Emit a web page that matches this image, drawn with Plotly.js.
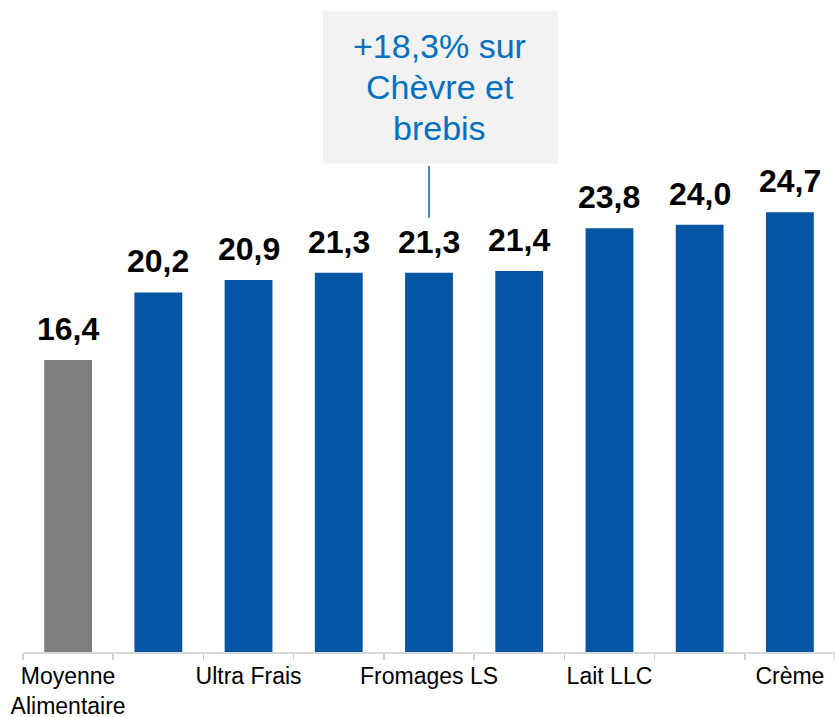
<!DOCTYPE html>
<html>
<head>
<meta charset="utf-8">
<script src="https://cdn.plot.ly/plotly-3.0.1.min.js"></script>
<style>html,body{margin:0;padding:0;background:#fff}#chart{width:835px;height:717px}</style>
</head>
<body>
<div id="chart"></div>
<script>
const categories = ["Moyenne<br>Alimentaire", " ", "Ultra Frais", "  ", "Fromages LS", "   ", "Lait LLC", "    ", "Crème"];
const values = [16.4, 20.2, 20.9, 21.3, 21.3, 21.4, 23.8, 24.0, 24.7];
const barColors = ["#7f7f7f", "#0455a3", "#0455a3", "#0455a3", "#0455a3", "#0455a3", "#0455a3", "#0455a3", "#0455a3"];
const calloutLines = ["+18,3% sur", "Chèvre et", "brebis"];
const calloutCategory = "Fromages LS";

const trace = {
  type: "bar",
  x: categories,
  y: values,
  marker: {color: barColors},
  width: 0.53,
  cliponaxis: false,
  hoverinfo: "none"
};

const labelFont = {family: "Arial, Liberation Sans, sans-serif", size: 32, color: "#000", weight: "bold"};
const valueLabels = categories.map((c, i) => ({
  text: values[i].toFixed(1).replace(".", ","), xref: "x", yref: "y", x: c, y: values[i],
  xanchor: "center", yanchor: "bottom", yshift: 11, showarrow: false, font: labelFont
}));

const calloutAnnotations = calloutLines.map((t, i) => ({
  text: t, xref: "paper", yref: "paper", x: 0.5135, y: 1.134 - i * 0.0768,
  xanchor: "center", yanchor: "middle", showarrow: false,
  font: {family: "Arial, Liberation Sans, sans-serif", size: 34, color: "#0070c0"}
}));

const layout = {
  width: 835, height: 717,
  margin: {l: 23, r: 0, t: 118, b: 65},
  paper_bgcolor: "#fff", plot_bgcolor: "#fff",
  showlegend: false,
  bargap: 0.47,
  xaxis: {
    type: "category",
    tickson: "boundaries",
    tickangle: 0,
    ticks: "outside", ticklen: 6, tickcolor: "#d0d0d0", tickwidth: 1.5,
    ticklabelstandoff: 2,
    showline: true, linecolor: "#d9d9d9", linewidth: 2,
    tickfont: {family: "Arial, Liberation Sans, sans-serif", size: 23, color: "#000"},
    fixedrange: true
  },
  yaxis: {range: [0, 30], visible: false, showgrid: false, zeroline: false, fixedrange: true},
  shapes: [
    {type: "rect", xref: "paper", yref: "paper", x0: 0.3695, x1: 0.6588, y0: 0.915, y1: 1.2, fillcolor: "#f2f2f2", line: {width: 0}, layer: "below"},
    {type: "line", xref: "x", yref: "y", x0: calloutCategory, x1: calloutCategory, y0: 24.4, y1: 27.3, line: {color: "#0062b5", width: 1.5}}
  ],
  annotations: valueLabels.concat(calloutAnnotations)
};

Plotly.newPlot("chart", [trace], layout, {displayModeBar: false, staticPlot: true});
</script>
</body>
</html>
